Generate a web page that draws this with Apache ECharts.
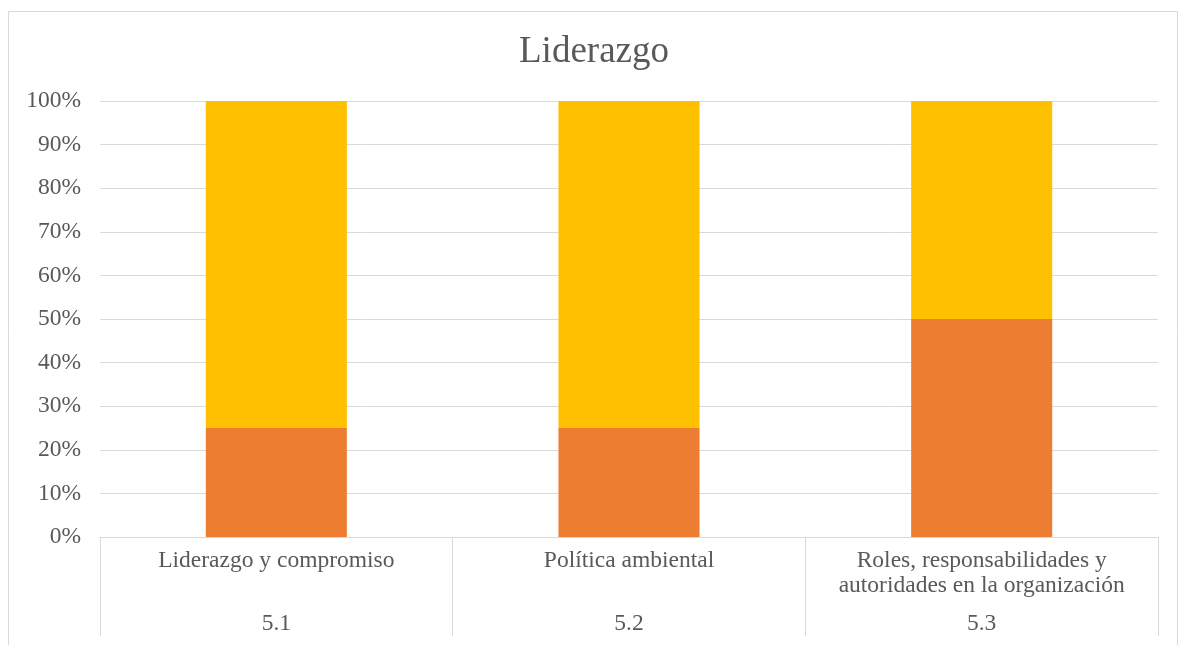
<!DOCTYPE html>
<html>
<head>
<meta charset="utf-8">
<script src="https://cdn.jsdelivr.net/npm/echarts@6/dist/echarts.min.js"></script>
<style>
  html, body { margin: 0; padding: 0; background: #fff; }
  #chart { width: 1188px; height: 645px; }
</style>
</head>
<body>
<div id="chart"></div>
<script>
// categories (two levels) and stacked shares
const topics = ['Liderazgo y compromiso', 'Política ambiental', 'Roles, responsabilidades y\nautoridades en la organización'];
const clauses = ['5.1', '5.2', '5.3'];
const lowerShare = [25, 25, 50];
const upperShare = [75, 75, 50];

const textColor = '#595959';
const lineColor = '#D9D9D9';
const font = "'Liberation Serif', 'Times New Roman', serif";

const chart = echarts.init(document.getElementById('chart'));
chart.setOption({
  animation: false,
  title: {
    text: 'Liderazgo',
    left: 'center',
    top: 29,
    textStyle: { color: textColor, fontFamily: font, fontSize: 37, fontWeight: 'normal' }
  },
  graphic: [{
    type: 'rect',
    shape: { x: 8.5, y: 11.5, width: 1169, height: 700 },
    style: { fill: 'none', stroke: lineColor, lineWidth: 1 },
    silent: true
  }],
  grid: { left: 100, right: 30, top: 101, bottom: 108 },
  xAxis: [
    {
      type: 'category',
      data: topics,
      position: 'bottom',
      axisLine: { show: true, lineStyle: { color: lineColor } },
      axisTick: { show: true, interval: 0, length: 99, lineStyle: { color: lineColor } },
      axisLabel: {
        interval: 0,
        margin: 12,
        verticalAlign: 'top',
        color: textColor,
        fontFamily: font,
        fontSize: 23.5,
        lineHeight: 24.5
      }
    },
    {
      type: 'category',
      data: clauses,
      position: 'bottom',
      offset: 75,
      axisLine: { show: false },
      axisTick: { show: false },
      axisLabel: {
        interval: 0,
        margin: 0,
        verticalAlign: 'top',
        color: textColor,
        fontFamily: font,
        fontSize: 23.5
      }
    }
  ],
  yAxis: {
    type: 'value',
    min: 0,
    max: 100,
    interval: 10,
    axisLine: { show: false },
    axisTick: { show: false },
    splitLine: { lineStyle: { color: lineColor } },
    axisLabel: {
      margin: 19,
      formatter: '{value}%',
      color: textColor,
      fontFamily: font,
      fontSize: 23.5
    }
  },
  series: [
    {
      type: 'bar',
      stack: 'total',
      data: lowerShare,
      barWidth: '40%',
      itemStyle: { color: '#ED7D31' }
    },
    {
      type: 'bar',
      stack: 'total',
      data: upperShare,
      barWidth: '40%',
      itemStyle: { color: '#FFC000' }
    }
  ]
});
</script>
</body>
</html>
